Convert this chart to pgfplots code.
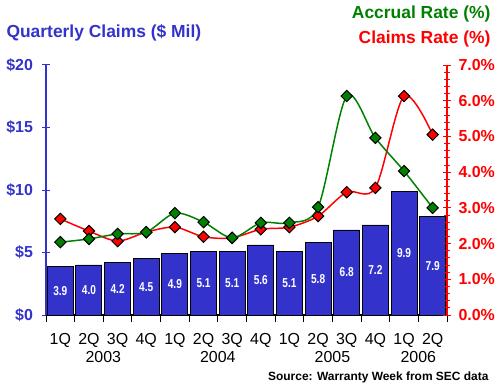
\documentclass[border=0pt]{standalone}
\usepackage{pgfplots}
\pgfplotsset{compat=1.18}
\usepackage{pgfplotstable}
\usepackage{graphicx}
\usepackage{fontspec}
\setmainfont{Liberation Sans}
\definecolor{barblue}{RGB}{51,51,204}
\definecolor{accgreen}{RGB}{0,128,0}
\definecolor{clmred}{RGB}{255,0,0}

\pgfplotstableread{
x  c    acc   clm
0  3.9  2.04  2.69
1  4.0  2.13  2.35
2  4.2  2.27  2.07
3  4.5  2.32  2.32
4  4.9  2.85  2.46
5  5.1  2.60  2.19
6  5.1  2.16  2.16
7  5.6  2.58  2.40
8  5.1  2.58  2.46
9  5.8  3.02  2.77
10 6.8  6.13  3.44
11 7.2  4.96  3.56
12 9.9  4.03  6.13
13 7.9  3.00  5.05
}\data

\begin{document}
\begin{tikzpicture}
\useasboundingbox (0,0) rectangle (500bp,385bp);
% ---- bars / left axis
\begin{axis}[
  at={(46bp,70bp)}, anchor=south west, scale only axis,
  width=401bp, height=250bp,
  xmin=-0.5, xmax=13.5, ymin=0, ymax=20,
  axis x line*=bottom, axis y line*=left,
  x axis line style={black, line width=1.2pt, -},
  y axis line style={barblue, line width=1.2pt, -},
  xtick={-0.5,0.5,1.5,2.5,3.5,4.5,5.5,6.5,7.5,8.5,9.5,10.5,11.5,12.5,13.5},
  x tick label as interval,
  xticklabels={1Q,2Q,3Q,4Q,1Q,2Q,3Q,4Q,1Q,2Q,3Q,4Q,1Q,2Q},
  xtick style={black, line width=1pt},
  xtick align=outside, major tick length=7bp,
  xticklabel style={font=\fontsize{16}{16}\selectfont, black, yshift=-8bp},
  ytick={0,5,10,15,20}, minor y tick num=4,
  ytick style={barblue, line width=1pt},
  ytick align=center,
  yticklabel={\$\pgfmathprintnumber{\tick}},
  yticklabel style={font=\bfseries\fontsize{16}{16}\selectfont, barblue, xshift=-6bp},
  /pgf/number format/assume math mode=true,
  clip=false,
]
\addplot[ybar, bar shift=0pt, bar width=26bp, fill=barblue, draw=black, line width=1pt]
  table[x=x, y=c]{\data};
\addplot[draw=none, mark=none, point meta=explicit,
  nodes near coords={\scalebox{0.78}[1]{\pgfmathprintnumber[fixed,fixed zerofill,precision=1]{\pgfplotspointmeta}}},
  every node near coord/.style={anchor=center, text=white, font=\bfseries\fontsize{13}{13}\selectfont}]
  table[x=x, y expr=\thisrow{c}/2, meta=c]{\data};
\node[font=\fontsize{16}{16}\selectfont] at (axis cs:1.5,0) [yshift=-42bp] {2003};
\node[font=\fontsize{16}{16}\selectfont] at (axis cs:5.5,0) [yshift=-42bp] {2004};
\node[font=\fontsize{16}{16}\selectfont] at (axis cs:9.5,0) [yshift=-42bp] {2005};
\node[font=\fontsize{16}{16}\selectfont] at (axis cs:12.5,0) [yshift=-42bp] {2006};
\end{axis}
% ---- rates / right axis
\begin{axis}[
  at={(46bp,70bp)}, anchor=south west, scale only axis,
  width=401bp, height=250bp,
  xmin=-0.5, xmax=13.5, ymin=0, ymax=7,
  axis x line=none, axis y line*=right,
  y axis line style={clmred, line width=1.2pt, -},
  ytick={0,1,...,7}, minor y tick num=4,
  ytick style={clmred, line width=1pt},
  ytick align=center, major tick length=8bp, minor tick length=6bp,
  yticklabel={\pgfmathprintnumber[fixed,fixed zerofill,precision=1]{\tick}\%},
  yticklabel style={font=\bfseries\fontsize{16}{16}\selectfont, clmred, xshift=4bp},
  /pgf/number format/assume math mode=true,
  clip=false,
]
\addplot[clmred, line width=1.5pt, smooth, mark=square*,
  mark options={rotate=45, fill=clmred, draw=black, line width=1pt}, mark size=4bp]
  table[x=x, y=clm]{\data};
\addplot[accgreen, line width=1.5pt, smooth, mark=square*,
  mark options={rotate=45, fill=accgreen, draw=black, line width=1pt}, mark size=4bp]
  table[x=x, y=acc]{\data};
\end{axis}
% ---- titles
\node[anchor=base west, font=\bfseries\fontsize{17.5}{17.5}\selectfont, text=barblue] at (3bp,347.5bp) {Quarterly Claims (\$ Mil)};
\node[anchor=base east, font=\bfseries\fontsize{17.5}{17.5}\selectfont, text=accgreen] at (494bp,366bp) {Accrual Rate (\%)};
\node[anchor=base east, font=\bfseries\fontsize{17.5}{17.5}\selectfont, text=clmred] at (494bp,341.7bp) {Claims Rate (\%)};
\node[anchor=base east, font=\bfseries\fontsize{12}{12}\selectfont, text=black] at (492bp,4.5bp) {Source: Warranty Week from SEC data};
\end{tikzpicture}
\end{document}
